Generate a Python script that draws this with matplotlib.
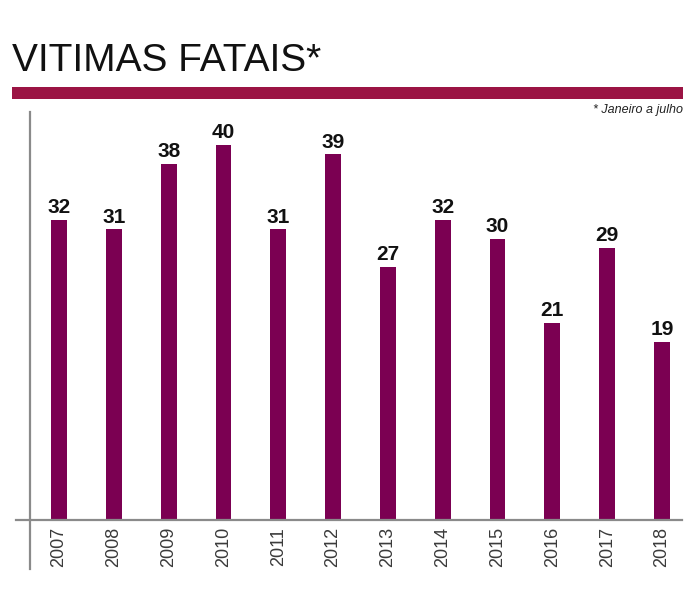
import matplotlib
matplotlib.use("Agg")
import matplotlib.pyplot as plt
from matplotlib.lines import Line2D
from matplotlib.patches import Rectangle

years = ["2007", "2008", "2009", "2010", "2011", "2012", "2013", "2014", "2015", "2016", "2017", "2018"]
values = [32, 31, 38, 40, 31, 39, 27, 32, 30, 21, 29, 19]
title = "VITIMAS FATAIS*"
note = "* Janeiro a julho"

W, H = 700, 610
BAR = "#7b0052"
BAND = "#9b1444"
AXIS = "#8a8a8a"

fig = plt.figure(figsize=(W / 100, H / 100), dpi=100)
fig.patch.set_facecolor("white")

def fx(px):
    return px / W

def fy(py):
    return 1 - py / H

# axes: x from 16..682 px, y from 112..520 px
ax = fig.add_axes([fx(16), fy(520), fx(682) - fx(16), (520 - 112) / H])
ax.set_facecolor("none")
n = len(years)
xs = list(range(n))
ax.bar(xs, values, width=0.29, color=BAR, zorder=2)
ax.set_xlim(-0.785, 11.365)
ax.set_ylim(0, 40 * 408 / 375)
for s in ax.spines.values():
    s.set_visible(False)
ax.set_yticks([])
ax.set_xticks(xs)
ax.set_xticklabels(years, rotation=90, fontsize=13, color="#3a3a3a",
                   family=["Liberation Sans", "DejaVu Sans"])
ax.tick_params(axis="x", length=0, pad=5)
for x, v in zip(xs, values):
    ax.annotate(str(v), (x, v), xytext=(0, 2), textcoords="offset points",
                ha="center", va="bottom", fontsize=15, fontweight="bold",
                family=["Liberation Sans", "DejaVu Sans"], color="#111111")

# baseline and left axis line
fig.add_artist(Line2D([fx(16), fx(682)], [fy(520), fy(520)], color=AXIS, lw=1.6))
fig.add_artist(Line2D([fx(30), fx(30)], [fy(112), fy(569)], color=AXIS, lw=1.6))

# title band
fig.add_artist(Rectangle((fx(12), fy(99)), fx(683) - fx(12), 12 / H,
                         color=BAND, lw=0))
fig.text(fx(12), fy(71), title, fontsize=28, ha="left", va="baseline",
         family=["Liberation Sans", "DejaVu Sans"], color="#111111")
fig.text(fx(683), fy(113), note, fontsize=9, style="italic", ha="right",
         va="baseline", family=["Liberation Sans", "DejaVu Sans"], color="#222222")

fig.savefig("out.png", dpi=100)
